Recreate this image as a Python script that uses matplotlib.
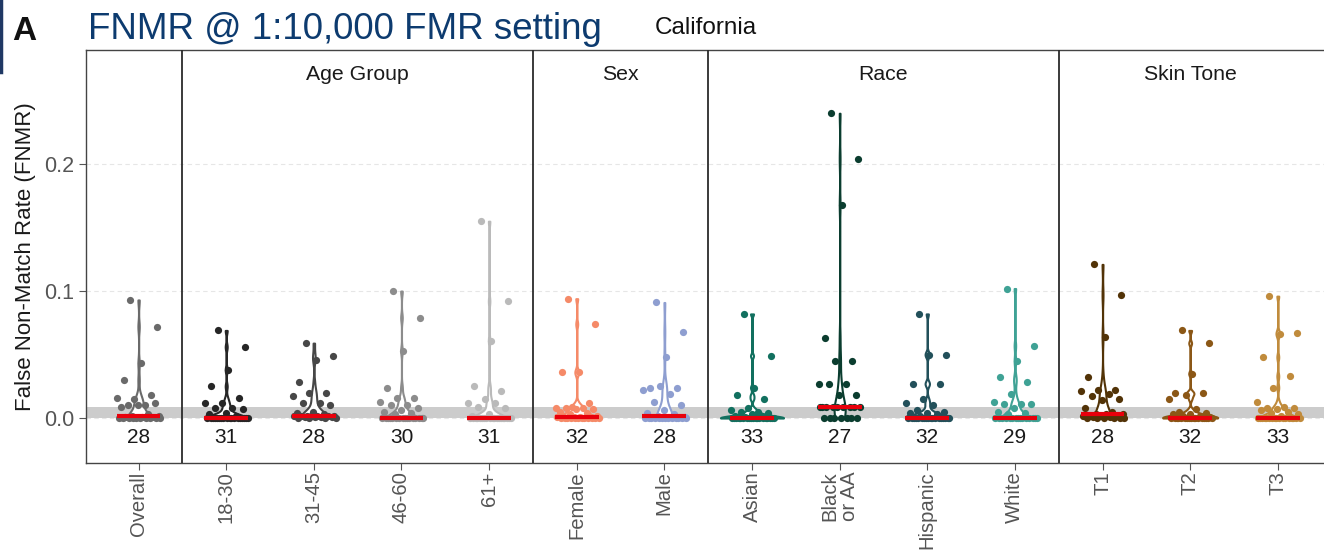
import numpy as np
import matplotlib.pyplot as plt

plt.rcParams['font.family'] = ['Liberation Sans', 'DejaVu Sans']

# FNMR per subject group (California, 1:10,000 FMR)
overall = [0.093, 0.072, 0.043, 0.030, 0.018, 0.015, 0.016, 0.010, 0.010, 0.012, 0.010, 0.009,
           0.003, 0.002, 0.002, 0.001, 0.001, 0.001] + [0.0] * 10
age_18_30 = [0.069, 0.056, 0.038, 0.025, 0.016, 0.012, 0.012, 0.008, 0.008, 0.007, 0.004,
             0.003, 0.002] + [0.0] * 18
age_31_45 = [0.059, 0.049, 0.046, 0.028, 0.020, 0.020, 0.017, 0.012, 0.012, 0.010, 0.005,
             0.004, 0.003, 0.002, 0.002, 0.002, 0.002, 0.002, 0.002, 0.002,
             0.001, 0.001, 0.001, 0.001, 0.0, 0.0, 0.0, 0.0]
age_46_60 = [0.100, 0.079, 0.053, 0.024, 0.016, 0.016, 0.013, 0.010, 0.010, 0.008, 0.006,
             0.005, 0.004, 0.003] + [0.0] * 16
age_61_up = [0.155, 0.092, 0.061, 0.025, 0.021, 0.015, 0.012, 0.012, 0.009, 0.008, 0.003,
             0.002] + [0.0] * 19
female = [0.094, 0.074, 0.036, 0.036, 0.012, 0.009, 0.008, 0.008, 0.008, 0.007, 0.007, 0.005,
          0.004, 0.003, 0.002, 0.001, 0.001, 0.001, 0.001, 0.001] + [0.0] * 12
male = [0.091, 0.068, 0.048, 0.024, 0.024, 0.025, 0.022, 0.019, 0.013, 0.010, 0.006, 0.004,
        0.003, 0.002, 0.001] + [0.0] * 13
asian = [0.082, 0.049, 0.024, 0.018, 0.015, 0.008, 0.006, 0.005, 0.005, 0.004, 0.003, 0.002,
         0.002, 0.001] + [0.0] * 19
black = [0.240, 0.204, 0.168, 0.063, 0.045, 0.045, 0.027, 0.027, 0.027, 0.018, 0.018] \
    + [0.009] * 9 + [0.0] * 7
hispanic = [0.082, 0.050, 0.050, 0.027, 0.027, 0.015, 0.012, 0.010, 0.006, 0.005, 0.004,
            0.004, 0.003, 0.002] + [0.0] * 18
white = [0.102, 0.057, 0.045, 0.032, 0.028, 0.019, 0.013, 0.011, 0.011, 0.011, 0.008, 0.005,
         0.004, 0.003] + [0.0] * 15
tone_1 = [0.121, 0.097, 0.064, 0.032, 0.022, 0.022, 0.021, 0.019, 0.017, 0.015, 0.014, 0.008,
          0.005, 0.003, 0.003, 0.003, 0.002, 0.002, 0.002, 0.002, 0.001, 0.001] + [0.0] * 6
tone_2 = [0.069, 0.059, 0.035, 0.020, 0.020, 0.018, 0.015, 0.007, 0.005, 0.004, 0.003, 0.003,
          0.002, 0.002, 0.001] + [0.0] * 17
tone_3 = [0.096, 0.067, 0.066, 0.048, 0.033, 0.024, 0.013, 0.009, 0.008, 0.008, 0.007, 0.006,
          0.005, 0.004, 0.003, 0.002] + [0.0] * 17

labels = ['Overall', '18-30', '31-45', '46-60', '61+', 'Female', 'Male',
          'Asian', 'Black\nor AA', 'Hispanic', 'White', 'T1', 'T2', 'T3']
series = [overall, age_18_30, age_31_45, age_46_60, age_61_up, female, male,
          asian, black, hispanic, white, tone_1, tone_2, tone_3]
colors = ['#6a6a6a', '#262626', '#474747', '#8c8c8c', '#bababa', '#f58a68', '#8e9ed0',
          '#12705f', '#0b3d2f', '#22505a', '#3fa295', '#523307', '#8b5716', '#c08b3c']
facet_names = ['', 'Age Group', 'Sex', 'Race', 'Skin Tone']
facet_sizes = [1, 4, 2, 4, 3]
band_top = 0.009


def bw_nrd0(x):
    hi = np.std(x, ddof=1)
    q75, q25 = np.percentile(x, [75, 25])
    lo = min(hi, (q75 - q25) / 1.34)
    if lo == 0:
        lo = hi or abs(x[0]) or 1.0
    return 0.9 * lo * len(x) ** -0.2


def kde(x, grid, bw):
    z = (grid[:, None] - x[None, :]) / bw
    return np.exp(-0.5 * z ** 2).sum(axis=1) / (len(x) * bw * np.sqrt(2 * np.pi))


fig = plt.figure(figsize=(13.24, 5.51), dpi=100)
ax = fig.add_axes([86 / 1324, 88 / 551, 1240 / 1324, 413 / 551])

positions = np.arange(len(labels))

# densities, scaled by area across all groups
dens = []
for vals in series:
    x = np.asarray(vals, dtype=float)
    grid = np.linspace(x.min(), x.max(), 512)
    dens.append((grid, kde(x, grid, bw_nrd0(x))))
dmax = max(d.max() for _, d in dens)
max_half = 0.36

ax.axhspan(0, band_top, color='#cccccc', zorder=1, lw=0)

for pos, vals, col, (grid, d) in zip(positions, series, colors, dens):
    half = max_half * d / dmax
    ax.fill_betweenx(grid, pos - half, pos + half, facecolor='white', edgecolor=col,
                     lw=1.5, zorder=2)
    n = len(vals)
    offs = ((np.arange(n) * 0.618034 + 0.31) % 1 - 0.5) * 0.5
    ax.scatter(pos + offs, vals, s=27, color=col, lw=0, zorder=3)
    ax.plot([pos - 0.25, pos + 0.25], [np.median(vals)] * 2, color='#e8000b', lw=3.0,
            solid_capstyle='butt', zorder=4)
    ax.text(pos, -0.0155, str(n), ha='center', va='center', fontsize=15, color='#1a1a1a')

# facet separators and facet titles
start = 0
for name, size in zip(facet_names, facet_sizes):
    if start > 0:
        ax.axvline(start - 0.5, color='#2b2b2b', lw=1.3, zorder=5)
    if name:
        ax.text(start + (size - 1) / 2, 0.94, name, transform=ax.get_xaxis_transform(),
                ha='center', va='center', fontsize=15.3, color='#1a1a1a')
    start += size

ax.set_xlim(-0.6, 13.55)
ax.set_ylim(-0.0354, 0.2898)
ax.set_yticks([0.0, 0.1, 0.2], ['0.0', '0.1', '0.2'])
ax.set_xticks(positions, labels, rotation=90, linespacing=1.0)
ax.tick_params(axis='both', colors='#555555', labelcolor='#555555', labelsize=15.5,
               length=5, width=0.8)
ax.tick_params(axis='x', pad=1.0, labelsize=14.6)
for side in ['left', 'bottom', 'top', 'right']:
    ax.spines[side].set_color('#444444')
    ax.spines[side].set_linewidth(1.0)
ax.grid(axis='y', color='#e6e6e6', ls=(0, (4, 3)), lw=0.8)
ax.set_axisbelow(True)
ax.set_ylabel('False Non-Match Rate (FNMR)', fontsize=16, color='#1a1a1a', labelpad=6)

fig.text(12 / 1324, 1 - 40 / 551, 'A', fontsize=24, fontweight='bold', color='#111111')
fig.text(88 / 1324, 1 - 39 / 551, 'FNMR @ 1:10,000 FMR setting', fontsize=26.5,
         color='#0d3b6f')
fig.text(655 / 1324, 1 - 34 / 551, 'California', fontsize=17.5, color='#111111')
fig.add_artist(plt.Line2D([1 / 1324, 1 / 1324], [1, 1 - 72 / 551], color='#1f3864',
                          lw=2.5, transform=fig.transFigure))

fig.savefig('out.png', dpi=100)
